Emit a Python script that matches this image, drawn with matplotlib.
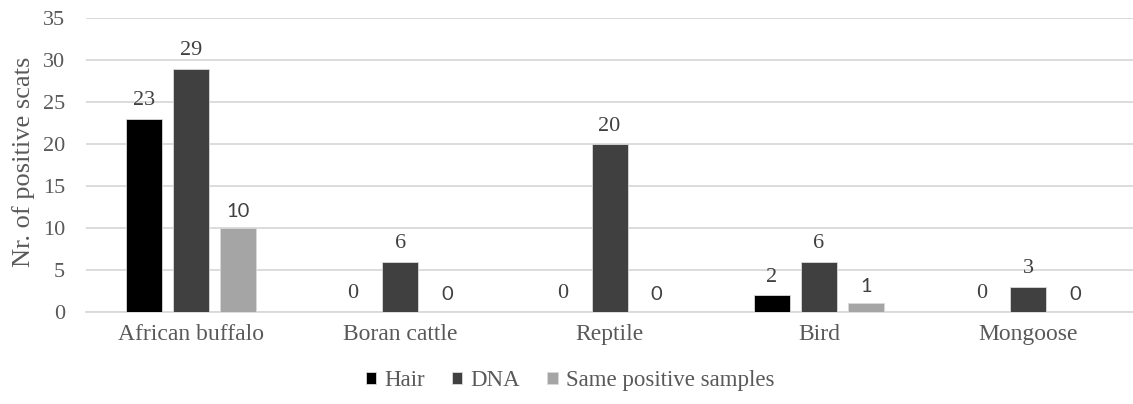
import matplotlib.pyplot as plt
import numpy as np

categories = ["African buffalo", "Boran cattle", "Reptile", "Bird", "Mongoose"]
hair = [23, 0, 0, 2, 0]
dna = [29, 6, 20, 6, 3]
same = [10, 0, 0, 1, 0]
series_names = ["Hair", "DNA", "Same positive samples"]

plt.rcParams['font.family'] = ["Liberation Serif", "DejaVu Serif"]

colors = ["#000000", "#404040", "#a5a5a5"]
label_col = "#404040"
axis_col = "#595959"

fig = plt.figure(figsize=(11.33, 4.04), dpi=100)
ax = fig.add_axes([0.076, 0.228, 0.924, 0.727])

x = np.arange(len(categories))
w = 0.172
step = 0.225
bars = []
for i, (vals, name) in enumerate(zip([hair, dna, same], series_names)):
    b = ax.bar(x + (i - 1) * step, vals, w, color=colors[i], label=name,
               edgecolor="#d9d9d9", linewidth=0.6, zorder=3)
    bars.append(b)
    for xi, v in zip(x + (i - 1) * step, vals):
        if i < 2:
            ax.text(xi, v + 1.0, str(v), ha="center", va="bottom",
                    fontsize=16, color=label_col)
        else:
            # third series labels are set in a sans face
            ax.text(xi, v + 1.0, str(v), ha="center", va="bottom",
                    fontsize=14.5, color=label_col, family=["Lato", "DejaVu Sans"])

ax.set_xlim(-0.5, len(categories) - 0.5)
ax.set_ylim(0, 35)
ax.set_yticks(range(0, 36, 5))
ax.yaxis.grid(True, color="#d9d9d9", linewidth=1.3, zorder=0)
ax.set_axisbelow(True)
for s in ["top", "right", "left"]:
    ax.spines[s].set_visible(False)
ax.spines["bottom"].set_color("#d9d9d9")
ax.spines["bottom"].set_linewidth(1.3)
ax.tick_params(length=0, colors=axis_col)
ax.tick_params(axis="y", labelsize=16, pad=15)
ax.tick_params(axis="x", labelsize=17, pad=9)
ax.set_xticks(x)
ax.set_xticklabels(categories)
ax.set_ylabel("Nr. of positive scats", fontsize=19, color=axis_col)
ax.yaxis.set_label_coords(-0.049, 0.51)

leg = fig.legend(handles=bars, labels=series_names, loc="center",
                 bbox_to_anchor=(0.503, 0.057), ncol=3, frameon=False,
                 fontsize=16.5,
                 handlelength=0.45, handleheight=0.45, handletextpad=0.35,
                 columnspacing=1.2)
for t in leg.get_texts():
    t.set_color(axis_col)

fig.savefig("out.png", dpi=100)
